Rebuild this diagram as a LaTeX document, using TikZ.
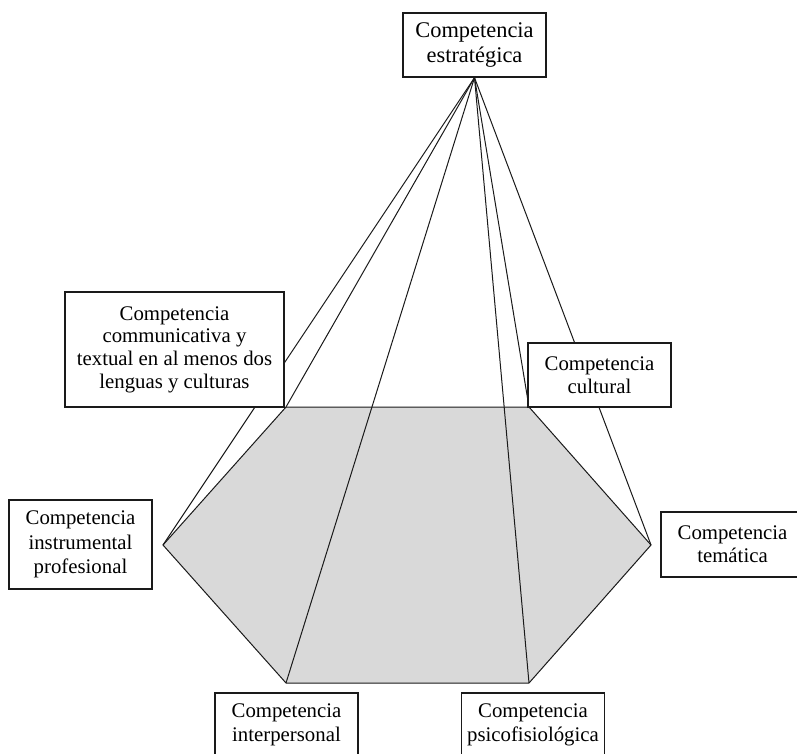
\documentclass[tikz,border=0pt]{standalone}
\usepackage{fontspec}
\setmainfont{Liberation Serif}
\definecolor{hexfill}{HTML}{D9D9D9}
\definecolor{ink}{HTML}{1A1A1A}

\begin{document}
\begin{tikzpicture}[x=0.5pt,y=-0.5pt,
  comp/.style={draw=ink,fill=white,line width=.65pt,align=center,inner sep=2pt,minimum width=71.5pt,minimum height=32pt,font=\fontsize{10.4}{11.7}\selectfont},
  edge/.style={ink,line width=.5pt}]
\useasboundingbox (0,0) rectangle (797,754);
% hexagon base
\coordinate (tl) at (286,407);\coordinate (tr) at (529,407);\coordinate (r) at (651,545);
\coordinate (br) at (529,683);\coordinate (bl) at (286,683);\coordinate (l) at (163,545);
\fill[hexfill] (tl)--(tr)--(r)--(br)--(bl)--(l)--cycle;
\draw[edge,line join=miter] (tl)--(tr)--(r)--(br)--(bl)--(l)--cycle;
% apex and edges
\node[comp,font=\fontsize{11.2}{12.6}\selectfont] (estr) at (474.5,45) {Competencia\\estratégica};
\foreach \v in {l,tl,bl,br,tr,r} \draw[edge] (estr.south)--(\v);
% the other competences
\node[comp,minimum width=109.5pt,minimum height=57.5pt,font=\fontsize{10.4}{11.3}\selectfont] (comm) at (174.5,349.5) {Competencia\\communicativa y\\textual en al menos dos\\lenguas y culturas};
\node[comp] (cult) at (599.5,375) {Competencia\\cultural};
\node[comp,minimum height=44.5pt,font=\fontsize{10.4}{12.2}\selectfont] (instr) at (80.5,544.5) {Competencia\\instrumental\\profesional};
\node[comp,minimum height=32.5pt] (tema) at (732.5,544.5) {Competencia\\temática};
\node[comp] (inter) at (286.5,725) {Competencia\\interpersonal};
\node[comp] (psico) at (533,725) {Competencia\\psicofisiológica};
\end{tikzpicture}
\end{document}
